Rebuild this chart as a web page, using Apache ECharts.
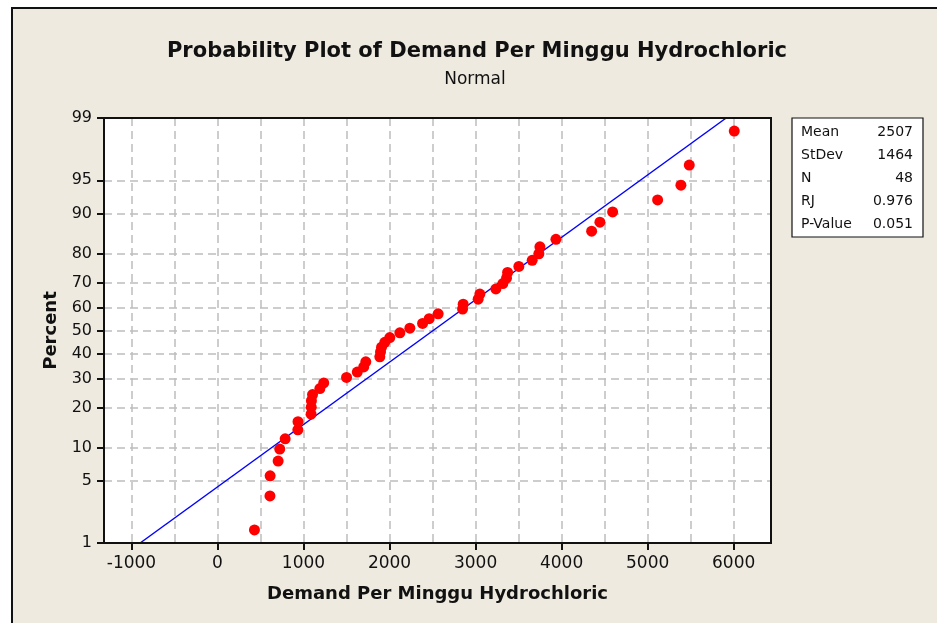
<!DOCTYPE html>
<html>
<head>
<meta charset="utf-8">
<script src="https://cdn.jsdelivr.net/npm/echarts@6/dist/echarts.min.js"></script>
<style>
  html, body { margin: 0; padding: 0; background: #ffffff; }
  #frame { position: absolute; left: 11px; top: 7px; width: 960px; height: 640px;
           background: #eeeae0; border: 2px solid #111; }
  #main { position: absolute; left: 0; top: 0; width: 937px; height: 623px; }
</style>
</head>
<body>
<div id="frame"></div>
<div id="main"></div>
<script>
// sorted demand values (one per point)
var demand = [430, 610, 612, 705, 724, 787, 934, 936, 1088, 1090,
              1092, 1105, 1190, 1235, 1500, 1625, 1700, 1724, 1887, 1895,
              1907, 1945, 2003, 2120, 2236, 2384, 2461, 2565, 2849, 2856,
              3030, 3050, 3236, 3317, 3360, 3372, 3503, 3658, 3736, 3748,
              3934, 4349, 4445, 4593, 5116, 5387, 5484, 6007];
// plotted percent of each point
var percent = [1.45, 3.51, 5.58, 7.64, 9.71, 11.78, 13.84, 15.91, 17.98, 20.04,
               22.11, 24.17, 26.24, 28.31, 30.37, 32.44, 34.50, 36.57, 38.64, 40.70,
               42.77, 44.83, 46.90, 48.97, 51.03, 53.10, 55.17, 57.23, 59.30, 61.36,
               63.43, 65.50, 67.56, 69.63, 71.69, 73.76, 75.83, 77.89, 79.96, 82.02,
               84.09, 86.16, 88.22, 90.29, 92.36, 94.42, 96.49, 98.55];
var percentTicks = [1, 5, 10, 20, 30, 40, 50, 60, 70, 80, 90, 95, 99];
var xLabelTicks = [-1000, 0, 1000, 2000, 3000, 4000, 5000, 6000];
var xGridTicks = [-1000, -500, 0, 500, 1000, 1500, 2000, 2500, 3000, 3500, 4000, 4500, 5000, 5500, 6000];
var mean = 2507, stdev = 1464;
var statLabels = ['Mean', 'StDev', 'N', 'RJ', 'P-Value'];
var statValues = ['2507', '1464', '48', '0.976', '0.051'];

// inverse normal cdf (Acklam), used for the probability scale
function normInv(p) {
    var a = [-3.969683028665376e+01, 2.209460984245205e+02, -2.759285104469687e+02,
             1.383577518672690e+02, -3.066479806614716e+01, 2.506628277459239e+00];
    var b = [-5.447609879822406e+01, 1.615858368580409e+02, -1.556989798598866e+02,
             6.680131188771972e+01, -1.328068155288572e+01];
    var c = [-7.784894002430293e-03, -3.223964580411365e-01, -2.400758277161838e+00,
             -2.549732539343734e+00, 4.374664141464968e+00, 2.938163982698783e+00];
    var d = [7.784695709041462e-03, 3.224671290700398e-01, 2.445134137142996e+00,
             3.754408661907416e+00];
    var pl = 0.02425, q, r;
    if (p < pl) {
        q = Math.sqrt(-2 * Math.log(p));
        return (((((c[0]*q+c[1])*q+c[2])*q+c[3])*q+c[4])*q+c[5]) / ((((d[0]*q+d[1])*q+d[2])*q+d[3])*q+1);
    }
    if (p > 1 - pl) {
        q = Math.sqrt(-2 * Math.log(1 - p));
        return -(((((c[0]*q+c[1])*q+c[2])*q+c[3])*q+c[4])*q+c[5]) / ((((d[0]*q+d[1])*q+d[2])*q+d[3])*q+1);
    }
    q = p - 0.5; r = q * q;
    return (((((a[0]*r+a[1])*r+a[2])*r+a[3])*r+a[4])*r+a[5])*q / (((((b[0]*r+b[1])*r+b[2])*r+b[3])*r+b[4])*r+1);
}

var zTicks = percentTicks.map(function (p) { return normInv(p / 100); });
var zMin = zTicks[0], zMax = zTicks[zTicks.length - 1];
var points = demand.map(function (v, i) { return [v, normInv(percent[i] / 100)]; });
var fitLine = [[mean + zMin * stdev, zMin], [mean + zMax * stdev, zMax]];

var FONT = 'DejaVu Sans';
var GRID = {left: 104, top: 118, right: 166, bottom: 80};
var chart = echarts.init(document.getElementById('main'));

var legendGraphic = [{
    type: 'rect', shape: {x: 792, y: 118, width: 131, height: 119},
    style: {fill: '#ffffff', stroke: '#111', lineWidth: 1.2}
}];
statLabels.forEach(function (lab, i) {
    legendGraphic.push({type: 'text', x: 801, y: 132 + i * 23,
        style: {text: lab, font: '14px ' + FONT, fill: '#111', textVerticalAlign: 'middle'}});
    legendGraphic.push({type: 'text', x: 913, y: 132 + i * 23,
        style: {text: statValues[i], font: '14px ' + FONT, fill: '#111', textAlign: 'right', textVerticalAlign: 'middle'}});
});

// plot frame on top of the dashed grid
var frameGraphic = {
    type: 'rect', z: 100,
    shape: {x: GRID.left, y: GRID.top, width: 937 - GRID.left - GRID.right, height: 623 - GRID.top - GRID.bottom},
    style: {fill: null, stroke: '#111', lineWidth: 2}
};

var option = {
    animation: false,
    backgroundColor: 'transparent',
    grid: {left: GRID.left, right: GRID.right, top: GRID.top, bottom: GRID.bottom, show: true,
           backgroundColor: '#ffffff', borderWidth: 0},
    graphic: [
        {type: 'text', x: 477, y: 52,
         style: {text: 'Probability Plot of Demand Per Minggu Hydrochloric', font: 'bold 21px ' + FONT,
                 fill: '#111', textAlign: 'center', textVerticalAlign: 'middle'}},
        {type: 'text', x: 475, y: 80,
         style: {text: 'Normal', font: '17px ' + FONT, fill: '#111', textAlign: 'center', textVerticalAlign: 'middle'}},
        frameGraphic
    ].concat(legendGraphic),
    xAxis: [{
        type: 'value', min: -1319, max: 6434,
        name: 'Demand Per Minggu Hydrochloric', nameLocation: 'middle', nameGap: 42,
        nameTextStyle: {fontFamily: FONT, fontWeight: 'bold', fontSize: 18, color: '#111'},
        axisLine: {onZero: false, lineStyle: {color: '#111', width: 2}},
        axisTick: {show: true, length: 7, lineStyle: {color: '#111', width: 2}, customValues: xLabelTicks},
        axisLabel: {customValues: xLabelTicks, margin: 12, fontFamily: FONT, fontSize: 17, color: '#111',
            formatter: function (v) { return String(v); }},
        splitLine: {show: false}
    }, {
        type: 'value', min: -1319, max: 6434, position: 'bottom',
        axisLine: {show: false, onZero: false}, axisLabel: {show: false},
        axisTick: {show: false, customValues: xGridTicks},
        splitLine: {show: true, lineStyle: {color: '#bdbdbd', width: 1.5, type: [8, 5]}}
    }],
    yAxis: {
        type: 'value', min: zMin, max: zMax,
        name: 'Percent', nameLocation: 'middle', nameGap: 42,
        nameTextStyle: {fontFamily: FONT, fontWeight: 'bold', fontSize: 18, color: '#111'},
        axisLine: {show: true, onZero: false, lineStyle: {color: '#111', width: 2}},
        axisTick: {show: true, length: 7, lineStyle: {color: '#111', width: 2}, customValues: zTicks},
        axisLabel: {customValues: zTicks, margin: 12, fontFamily: FONT, fontSize: 16, color: '#111',
            formatter: function (v) {
                for (var i = 0; i < zTicks.length; i++) {
                    if (Math.abs(zTicks[i] - v) < 1e-6) return String(percentTicks[i]);
                }
                return '';
            }},
        splitLine: {show: true, lineStyle: {color: '#bdbdbd', width: 1.5, type: [8, 5]}}
    },
    series: [{
        type: 'line', data: fitLine, showSymbol: false, silent: true,
        lineStyle: {color: '#0000ff', width: 1.5}, z: 2
    }, {
        type: 'scatter', data: points, symbolSize: 11,
        itemStyle: {color: '#ff0000', opacity: 1}, z: 3
    }]
};
chart.setOption(option);
</script>
</body>
</html>
